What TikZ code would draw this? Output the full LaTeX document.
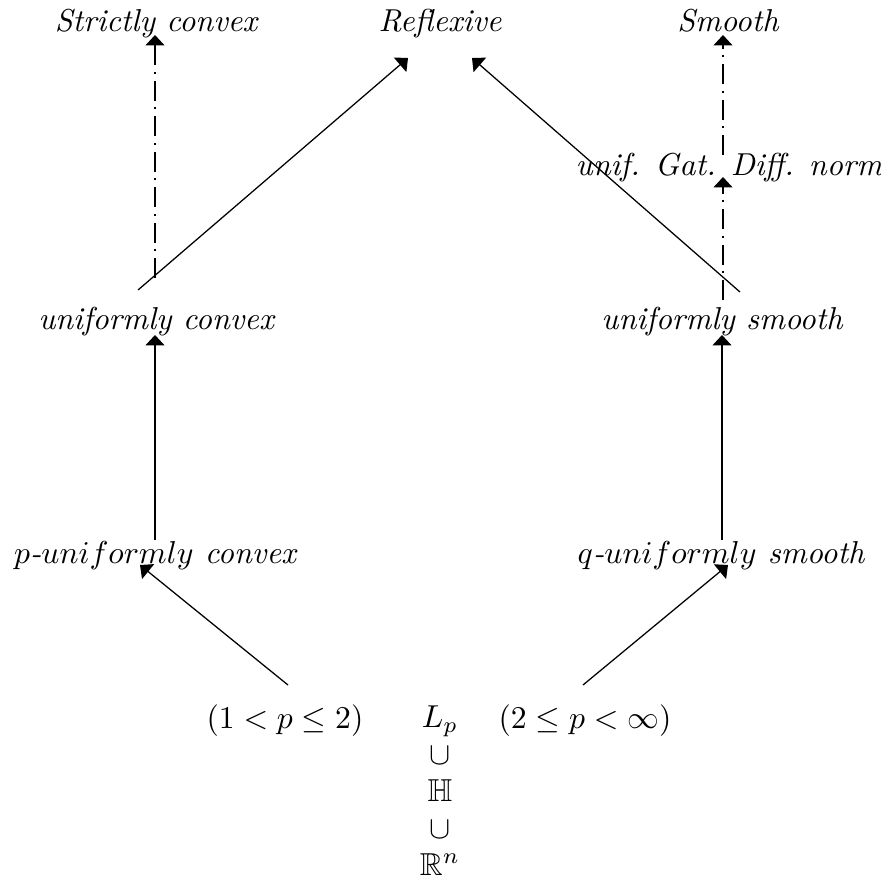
\documentclass[tikz,border=0pt]{standalone}
\usepackage{amsmath,amssymb}
\usepackage{tikz}
\usetikzlibrary{arrows.meta,calc}
\tikzset{
  lbl/.style={anchor=base, inner sep=0pt, font=\itshape},
  arr/.style={-{Triangle[length=3.3pt,width=6pt]}, black},
  dotarr/.style={arr, dash pattern=on 6.3pt off 2.2pt on 0.5pt off 2.2pt},
}
\begin{document}
\begin{tikzpicture}[x=0.3155pt,y=-0.3155pt]
\useasboundingbox (0,0) rectangle (880,887);
\node[lbl] (sc) at (156,31) {Strictly convex};
\node[lbl] (refl) at (440,31) {Reflexive};
\node[lbl] (sm) at (728,31) {Smooth};
\node[lbl] (gd) at (729,175) {unif. Gat. Diff. norm};
\node[lbl] (uc) at (156,329) {uniformly convex};
\node[lbl] (us) at (722,329) {uniformly smooth};
\node[lbl] (puc) at (155,563) {$p$-$uniformly$ convex};
\node[lbl] (quc) at (721,563) {$q$-$uniformly$ smooth};
\node[lbl, font=\normalfont] (pl) at (285,728) {$(1<p\leq 2)$};
\node[lbl, font=\normalfont] (pr) at (585,728) {$(2\leq p<\infty)$};
\node[anchor=base, inner sep=0pt, align=center, font=\fontsize{10}{11.6}\selectfont]
  (lp) at (440,875) {$L_p$\\$\cup$\\$\mathbb{H}$\\$\cup$\\$\mathbb{R}^n$};
\draw[arr] ($(pl.base)+(3,-43)$) -- ($(puc.base)+(-15,2)$);
\draw[arr] ($(pr.base)+(-2,-43)$) -- ($(quc.base)+(7,2)$);
\draw[arr] ($(puc.base)+(0,-23)$) -- ($(uc.base)+(-1,6)$);
\draw[arr] ($(quc.base)+(1,-23)$) -- ($(us.base)+(0,6)$);
\draw[dotarr] ($(uc.base)+(-1,-51)$) -- ($(sc.base)+(-1,4)$);
\draw[arr] ($(uc.base)+(-18,-39)$) -- ($(refl.base)+(-32,27)$);
\draw[arr] ($(us.base)+(18,-37)$) -- ($(refl.base)+(32,27)$);
\draw[dotarr] ($(us.base)+(1,-29)$) -- ($(gd.base)+(-6,2)$);
\draw[dotarr] ($(gd.base)+(-6,-20)$) -- ($(sm.base)+(-5,4)$);
\end{tikzpicture}
\end{document}
